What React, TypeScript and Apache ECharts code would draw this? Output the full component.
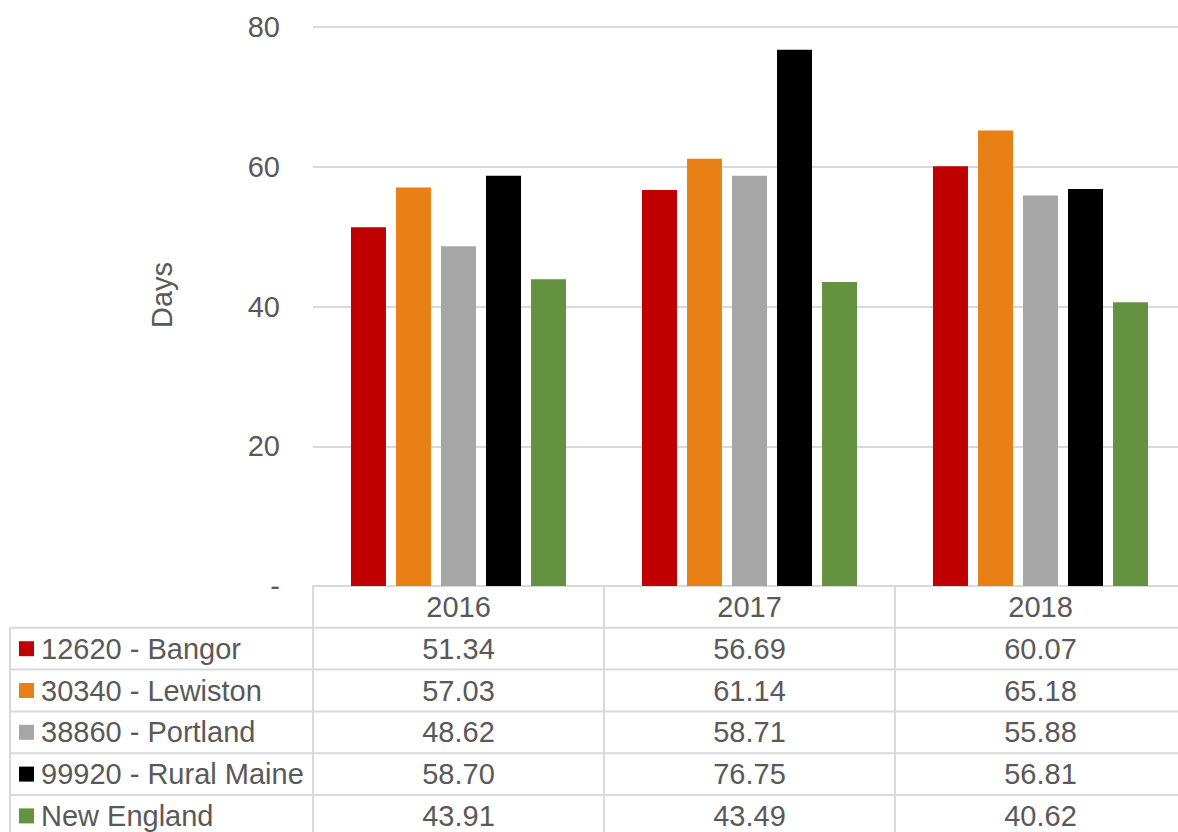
import React, { useEffect, useRef } from "react";
import * as echarts from "echarts";

const years = ["2016", "2017", "2018"];
const seriesNames = ["12620 - Bangor", "30340 - Lewiston", "38860 - Portland", "99920 - Rural Maine", "New England"];
const bangor = [51.34, 56.69, 60.07];
const lewiston = [57.03, 61.14, 65.18];
const portland = [48.62, 58.71, 55.88];
const ruralMaine = [58.7, 76.75, 56.81];
const newEngland = [43.91, 43.49, 40.62];
const seriesData = [bangor, lewiston, portland, ruralMaine, newEngland];
const colors = ["#C00000", "#E98016", "#A6A6A6", "#000000", "#659241"];
const yTicks = [0, 20, 40, 60, 80];

const FONT = "'Liberation Sans', Arial, sans-serif";
const TXT = "#595959";
const LINE = "#d9d9d9";
const AXIS_Y = 586;
const ROW_H = 41.8;
const FS = 29;

export default function App() {
  const ref = useRef<HTMLDivElement>(null);
  useEffect(() => {
    if (!ref.current) return;
    const chart = echarts.init(ref.current, null, { renderer: "svg" });

    const graphic: any[] = [];
    // table horizontal row lines
    for (let k = 1; k <= seriesNames.length; k++) {
      const y = AXIS_Y + ROW_H * k;
      graphic.push({
        type: "line",
        shape: { x1: 10, y1: y, x2: 1178, y2: y },
        style: { stroke: LINE, lineWidth: 2 },
        silent: true,
      });
    }
    graphic.push({
      type: "line",
      shape: { x1: 10, y1: AXIS_Y + ROW_H, x2: 10, y2: 840 },
      style: { stroke: LINE, lineWidth: 2 },
      silent: true,
    });
    seriesNames.forEach((name, i) => {
      const cy = AXIS_Y + ROW_H * (i + 1) + ROW_H / 2;
      graphic.push({
        type: "rect",
        shape: { x: 19, y: cy - 7.5, width: 15, height: 15 },
        style: { fill: colors[i] },
        silent: true,
      });
      graphic.push({
        type: "text",
        x: 41,
        y: cy,
        style: {
          text: name,
          fill: TXT,
          font: `${FS}px ${FONT}`,
          verticalAlign: "middle",
          align: "left",
        },
        silent: true,
      });
    });
    graphic.push({
      type: "text",
      x: 162,
      y: 295,
      rotation: Math.PI / 2,
      style: {
        text: "Days",
        fill: TXT,
        font: `${FS}px ${FONT}`,
        align: "center",
        verticalAlign: "middle",
      },
      silent: true,
    });

    chart.setOption({
      animation: false,
      textStyle: { fontFamily: FONT },
      grid: {
        left: 313,
        right: -8,
        top: 27,
        bottom: 832 - AXIS_Y,
        containLabel: false,
        outerBoundsMode: "none",
      },
      xAxis: {
        type: "category",
        data: years,
        axisLine: { show: true, lineStyle: { color: LINE, width: 2 } },
        axisTick: { show: true, alignWithLabel: false, length: 260, lineStyle: { color: LINE, width: 2 } },
        axisLabel: {
          margin: 0,
          color: TXT,
          fontSize: FS,
          lineHeight: ROW_H,
          fontFamily: FONT,
          formatter: (v: string, idx: number) => {
            const lines = [v];
            seriesData.forEach((arr) => lines.push(arr[idx].toFixed(2)));
            return lines.join("\n");
          },
        },
        splitLine: { show: false },
      },
      yAxis: {
        type: "value",
        min: yTicks[0],
        max: yTicks[yTicks.length - 1],
        interval: 20,
        axisLine: { show: false },
        axisTick: { show: false },
        axisLabel: {
          margin: 33,
          color: TXT,
          fontSize: FS,
          fontFamily: FONT,
          formatter: (v: number) => (v === 0 ? "-" : String(v)),
        },
        splitLine: { lineStyle: { color: LINE, width: 2 } },
      },
      series: seriesNames.map((name, i) => ({
        name,
        type: "bar",
        data: seriesData[i],
        barWidth: 35,
        barGap: "28.6%",
        itemStyle: { color: colors[i] },
      })),
      graphic,
    });
    return () => chart.dispose();
  }, []);
  return (
    <div
      ref={ref}
      style={{ position: "absolute", left: 0, top: 0, width: 1178, height: 832, background: "#fff" }}
    />
  );
}
